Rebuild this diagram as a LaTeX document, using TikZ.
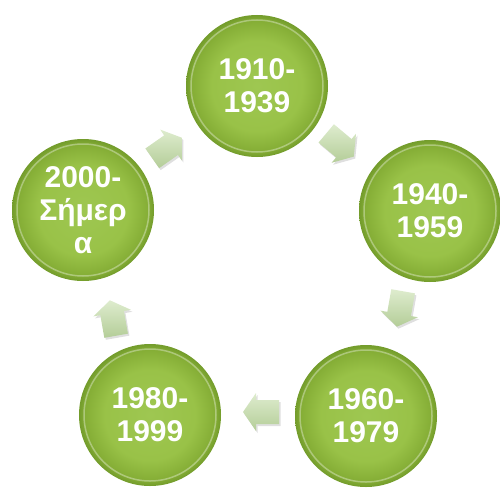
\documentclass[tikz,border=0pt]{standalone}
\usepackage{fontspec}
\setmainfont{Liberation Sans}
\usetikzlibrary{shadows}

\definecolor{arrlight}{RGB}{222,236,206}
\definecolor{arrdark}{RGB}{180,205,152}

\pgfdeclareradialshading{disc}{\pgfpoint{0bp}{0bp}}{%
  rgb(0bp)=(0.62,0.78,0.32);
  rgb(16bp)=(0.60,0.76,0.28);
  rgb(23bp)=(0.52,0.68,0.21);
  rgb(25bp)=(0.45,0.61,0.17);
  rgb(50bp)=(0.45,0.61,0.17)}

\tikzset{
  period/.style={circle,minimum size=142pt,inner sep=0pt,
    shading=disc,text=white,align=center,
    font=\bfseries\fontsize{30}{33}\selectfont,
    path picture={\draw[white,opacity=.35,line width=1.5pt]
      (path picture bounding box.center) circle (66pt);}},
  flowarrow/.pic={
    \shade[top color=arrlight,bottom color=arrdark,
      drop shadow={opacity=.25,shadow xshift=1.5pt,shadow yshift=-2pt}]
      (-18,-12) -- (5,-12) -- (5,-19) -- (18,0) -- (5,19) -- (5,12)
      -- (-18,12) -- cycle;}
}

\begin{document}
\begin{tikzpicture}[x=1pt,y=-1pt]
\useasboundingbox (0,0) rectangle (500,487);

\node[period] (p1) at (257,86) {1910-\\1939};
\node[period] (p2) at (430,211) {1940-\\1959};
\node[period] (p3) at (366,416) {1960-\\1979};
\node[period] (p4) at (150,415) {1980-\\1999};
\node[period] (p5) at (83,210) {2000-\\Σήμερ\\α};

\pic[rotate=35] (a51) at (167,148) {flowarrow};
\pic[rotate=-40] (a12) at (340,145) {flowarrow};
\pic[rotate=-100] (a23) at (400,309) {flowarrow};
\pic[rotate=180] (a34) at (261,412) {flowarrow};
\pic[rotate=100] (a45) at (113,318) {flowarrow};
\end{tikzpicture}
\end{document}
